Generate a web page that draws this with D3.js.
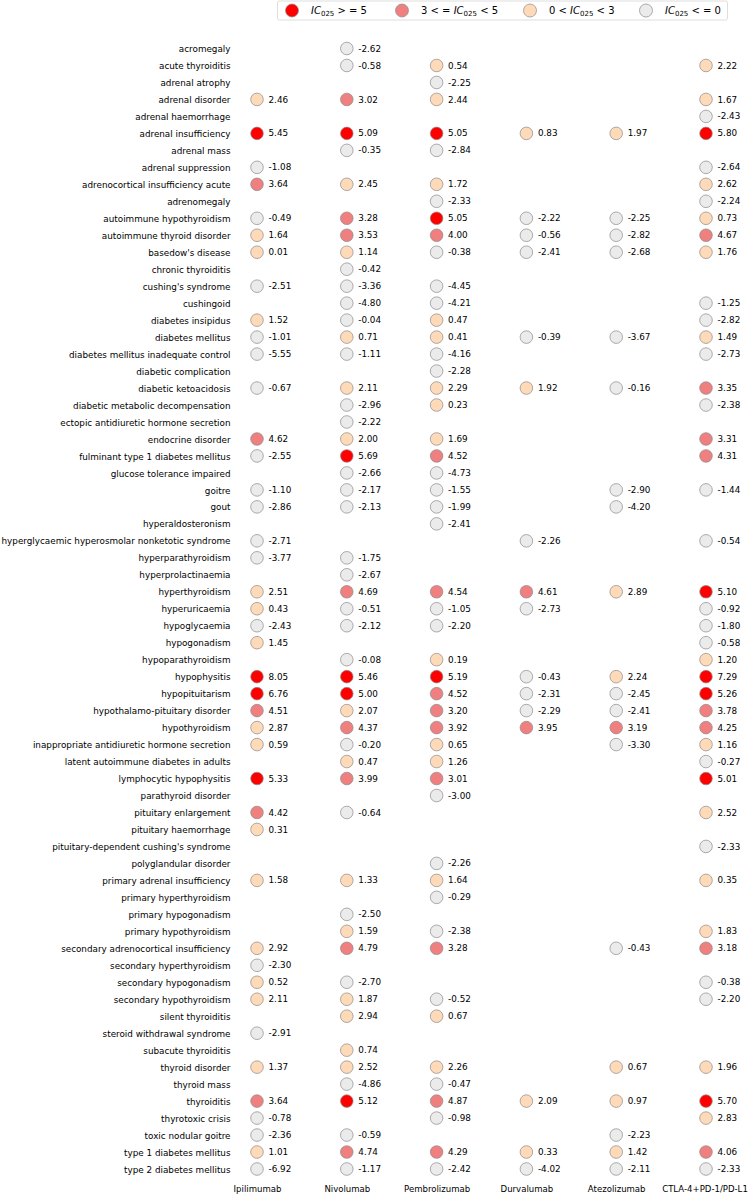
<!DOCTYPE html>
<html>
<head>
<meta charset="utf-8">
<script src="https://cdn.jsdelivr.net/npm/d3@7"></script>
<style>
  html, body { margin: 0; padding: 0; background: #fff; }
  svg { display: block; font-family: "DejaVu Sans", sans-serif; }
</style>
</head>
<body>
<svg id="chart" width="749" height="1194"></svg>
<script>
const categories = [
  "acromegaly","acute thyroiditis","adrenal atrophy","adrenal disorder","adrenal haemorrhage",
  "adrenal insufficiency","adrenal mass","adrenal suppression","adrenocortical insufficiency acute",
  "adrenomegaly","autoimmune hypothyroidism","autoimmune thyroid disorder","basedow's disease",
  "chronic thyroiditis","cushing's syndrome","cushingoid","diabetes insipidus","diabetes mellitus",
  "diabetes mellitus inadequate control","diabetic complication","diabetic ketoacidosis",
  "diabetic metabolic decompensation","ectopic antidiuretic hormone secretion","endocrine disorder",
  "fulminant type 1 diabetes mellitus","glucose tolerance impaired","goitre","gout",
  "hyperaldosteronism","hyperglycaemic hyperosmolar nonketotic syndrome","hyperparathyroidism",
  "hyperprolactinaemia","hyperthyroidism","hyperuricaemia","hypoglycaemia","hypogonadism",
  "hypoparathyroidism","hypophysitis","hypopituitarism","hypothalamo-pituitary disorder",
  "hypothyroidism","inappropriate antidiuretic hormone secretion","latent autoimmune diabetes in adults",
  "lymphocytic hypophysitis","parathyroid disorder","pituitary enlargement","pituitary haemorrhage",
  "pituitary-dependent cushing's syndrome","polyglandular disorder","primary adrenal insufficiency",
  "primary hyperthyroidism","primary hypogonadism","primary hypothyroidism",
  "secondary adrenocortical insufficiency","secondary hyperthyroidism","secondary hypogonadism",
  "secondary hypothyroidism","silent thyroiditis","steroid withdrawal syndrome","subacute thyroiditis",
  "thyroid disorder","thyroid mass","thyroiditis","thyrotoxic crisis","toxic nodular goitre",
  "type 1 diabetes mellitus","type 2 diabetes mellitus"
];

const drugs = ["Ipilimumab","Nivolumab","Pembrolizumab","Durvalumab","Atezolizumab","CTLA-4+PD-1/PD-L1"];

const N = null;
const ipilimumab = [N,N,N,2.46,N,5.45,N,-1.08,3.64,N,-0.49,1.64,0.01,N,-2.51,N,1.52,-1.01,-5.55,N,-0.67,N,N,4.62,-2.55,N,-1.10,-2.86,N,-2.71,-3.77,N,2.51,0.43,-2.43,1.45,N,8.05,6.76,4.51,2.87,0.59,N,5.33,N,4.42,0.31,N,N,1.58,N,N,N,2.92,-2.30,0.52,2.11,N,-2.91,N,1.37,N,3.64,-0.78,-2.36,1.01,-6.92];
const nivolumab = [-2.62,-0.58,N,3.02,N,5.09,-0.35,N,2.45,N,3.28,3.53,1.14,-0.42,-3.36,-4.80,-0.04,0.71,-1.11,N,2.11,-2.96,-2.22,2.00,5.69,-2.66,-2.17,-2.13,N,N,-1.75,-2.67,4.69,-0.51,-2.12,N,-0.08,5.46,5.00,2.07,4.37,-0.20,0.47,3.99,N,-0.64,N,N,N,1.33,N,-2.50,1.59,4.79,N,-2.70,1.87,2.94,N,0.74,2.52,-4.86,5.12,N,-0.59,4.74,-1.17];
const pembrolizumab = [N,0.54,-2.25,2.44,N,5.05,-2.84,N,1.72,-2.33,5.05,4.00,-0.38,N,-4.45,-4.21,0.47,0.41,-4.16,-2.28,2.29,0.23,N,1.69,4.52,-4.73,-1.55,-1.99,-2.41,N,N,N,4.54,-1.05,-2.20,N,0.19,5.19,4.52,3.20,3.92,0.65,1.26,3.01,-3.00,N,N,N,-2.26,1.64,-0.29,N,-2.38,3.28,N,N,-0.52,0.67,N,N,2.26,-0.47,4.87,-0.98,N,4.29,-2.42];
const durvalumab = [N,N,N,N,N,0.83,N,N,N,N,-2.22,-0.56,-2.41,N,N,N,N,-0.39,N,N,1.92,N,N,N,N,N,N,N,N,-2.26,N,N,4.61,-2.73,N,N,N,-0.43,-2.31,-2.29,3.95,N,N,N,N,N,N,N,N,N,N,N,N,N,N,N,N,N,N,N,N,N,2.09,N,N,0.33,-4.02];
const atezolizumab = [N,N,N,N,N,1.97,N,N,N,N,-2.25,-2.82,-2.68,N,N,N,N,-3.67,N,N,-0.16,N,N,N,N,N,-2.90,-4.20,N,N,N,N,2.89,N,N,N,N,2.24,-2.45,-2.41,3.19,-3.30,N,N,N,N,N,N,N,N,N,N,N,-0.43,N,N,N,N,N,N,0.67,N,0.97,N,-2.23,1.42,-2.11];
const combination = [N,2.22,N,1.67,-2.43,5.80,N,-2.64,2.62,-2.24,0.73,4.67,1.76,N,N,-1.25,-2.82,1.49,-2.73,N,3.35,-2.38,N,3.31,4.31,N,-1.44,N,N,-0.54,N,N,5.10,-0.92,-1.80,-0.58,1.20,7.29,5.26,3.78,4.25,1.16,-0.27,5.01,N,2.52,N,-2.33,N,0.35,N,N,1.83,3.18,N,-0.38,-2.20,N,N,N,1.96,N,5.70,2.83,N,4.06,-2.33];

const seriesValues = [ipilimumab, nivolumab, pembrolizumab, durvalumab, atezolizumab, combination];

const legendLabels = [">= 5", "3 <= IC < 5", "0 < IC < 3", "<= 0"];

const colorFor = v => v >= 5 ? "#ff0000" : v >= 3 ? "#f08080" : v > 0 ? "#ffdab9" : "#ebebeb";

const svg = d3.select("#chart");
const FS = 8.8;

const y = d3.scalePoint().domain(categories).range([48.5, 1169]);
const x = d3.scalePoint().domain(drugs).range([257, 706]);

// row labels
const yAxis = d3.axisLeft(y).tickSize(0).tickPadding(0);
const gy = svg.append("g").attr("transform", "translate(230.5,0)").call(yAxis);
gy.select(".domain").remove();
gy.selectAll("text").attr("font-size", FS).attr("font-family", "DejaVu Sans, sans-serif").attr("fill", "#000").attr("dy", "0.35em");

// column labels
const xAxis = d3.axisBottom(x).tickSize(0).tickPadding(0);
const gx = svg.append("g").attr("transform", "translate(0,1184)").call(xAxis);
gx.select(".domain").remove();
gx.selectAll("text").attr("font-size", 8.55).attr("font-family", "DejaVu Sans, sans-serif").attr("fill", "#000").attr("dy", "0.35em").attr("y", 5);
// keep the last (long) label inside the picture
gx.selectAll(".tick").filter(d => d === drugs[drugs.length - 1]).select("text").attr("x", -1.5);

// points
const points = [];
drugs.forEach((d, j) => {
  seriesValues[j].forEach((v, i) => {
    if (v !== null) points.push({drug: d, cat: categories[i], v});
  });
});

const g = svg.append("g");
g.selectAll("circle.pt").data(points).join("circle")
  .attr("class", "pt")
  .attr("cx", d => x(d.drug))
  .attr("cy", d => y(d.cat))
  .attr("r", 6.3)
  .attr("fill", d => colorFor(d.v))
  .attr("stroke", "#8a8a8a")
  .attr("stroke-width", 0.7);

g.selectAll("text.val").data(points).join("text")
  .attr("class", "val")
  .attr("x", d => x(d.drug) + 11.5)
  .attr("y", d => y(d.cat))
  .attr("dy", "0.35em")
  .attr("font-size", FS)
  .text(d => d.v.toFixed(2));

// legend
const lg = svg.append("g");
lg.append("rect").attr("x", 277.5).attr("y", 1).attr("width", 450).attr("height", 19)
  .attr("rx", 2).attr("fill", "#fff").attr("stroke", "#d6d6d6").attr("stroke-width", 0.8);

const legendItems = [
  {c: "#ff0000", cx: 292, tx: 311, parts: [["IC","i"],["025","s"],[" > = 5",""]]},
  {c: "#f08080", cx: 402, tx: 421, parts: [["3 < = ",""],["IC","i"],["025","s"],[" < 5",""]]},
  {c: "#ffdab9", cx: 530, tx: 549, parts: [["0 < ",""],["IC","i"],["025","s"],[" < 3",""]]},
  {c: "#ebebeb", cx: 646, tx: 665, parts: [["IC","i"],["025","s"],[" < = 0",""]]}
];
legendItems.forEach((it, k) => {
  lg.append("circle").attr("cx", it.cx).attr("cy", 10.5).attr("r", 6.5)
    .attr("fill", it.c).attr("stroke", "#8a8a8a").attr("stroke-width", 0.7);
  const t = lg.append("text").attr("x", it.tx).attr("y", 14.2).attr("font-size", 10)
    .attr("data-label", legendLabels[k]);
  let prevSub = false;
  it.parts.forEach(p => {
    const ts = t.append("tspan").text(p[0]);
    if (p[1] === "i") ts.attr("font-style", "italic");
    if (p[1] === "s") { ts.attr("font-size", 7).attr("dy", 2); prevSub = true; }
    else if (prevSub) { ts.attr("dy", -2); prevSub = false; }
  });
});
</script>
</body>
</html>
